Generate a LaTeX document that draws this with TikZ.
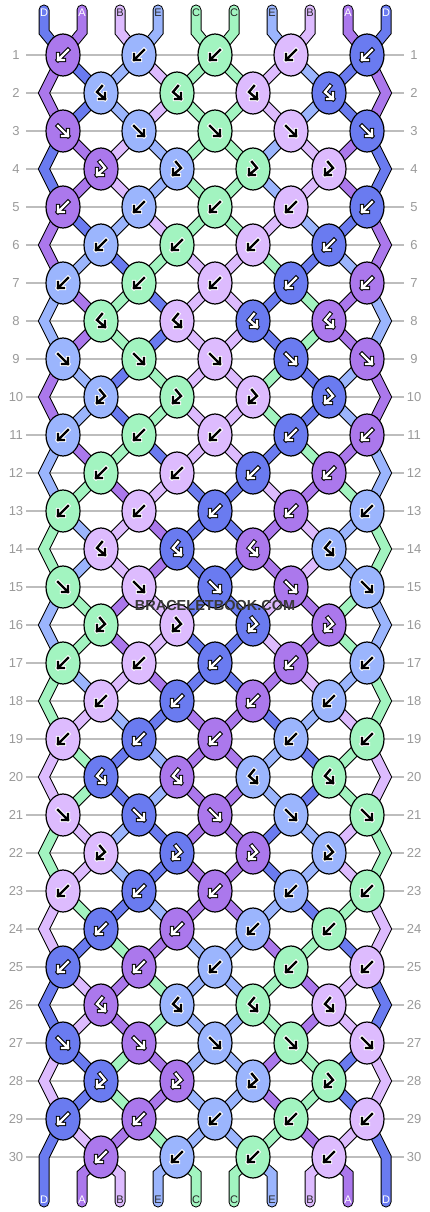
\documentclass[tikz,border=0pt]{standalone}
\usepackage{fontspec}
\setsansfont{Liberation Sans}
\usetikzlibrary{shapes.geometric}

\definecolor{strA}{HTML}{AB78EC}
\definecolor{strB}{HTML}{DDBBFE}
\definecolor{strC}{HTML}{A2F4C0}
\definecolor{strD}{HTML}{6A7BF0}
\definecolor{strE}{HTML}{9BB5FD}
\colorlet{inkA}{white}\colorlet{rimA}{black}\colorlet{lblA}{white}
\colorlet{inkD}{white}\colorlet{rimD}{black}\colorlet{lblD}{white}
\colorlet{inkB}{black}\colorlet{rimB}{white}\colorlet{lblB}{black!85}
\colorlet{inkC}{black}\colorlet{rimC}{white}\colorlet{lblC}{black!85}
\colorlet{inkE}{black}\colorlet{rimE}{white}\colorlet{lblE}{black!85}
\definecolor{gridgray}{HTML}{BDBDBD}
\definecolor{numgray}{HTML}{9A9A9A}

\tikzset{
  knot/.style={ellipse, draw=black, line width=1.2pt, fill=#1,
    minimum width=34pt, minimum height=42pt, inner sep=0pt},
  strand/.style={draw=black, line width=1pt, double=#1, double distance=9pt,
    line cap=round, line join=miter},
  rownum/.style={text=numgray, font=\sffamily\fontsize{13}{13}\selectfont, inner sep=0pt},
  endlabel/.style={text=#1, font=\sffamily\fontsize{11}{11}\selectfont, inner sep=0pt},
  stamp/.style={text=#1, font=\sffamily\bfseries\fontsize{14.5}{14.5}\selectfont, inner sep=0pt},
  % knot symbols
  gB/.pic={\draw[pic actions] (5,-5) -- (-5,5) (-5,-1) -- (-5,5) -- (1,5);},
  gF/.pic={\draw[pic actions] (-5,-5) -- (5,5) (5,-1) -- (5,5) -- (-1,5);},
  gBF/.pic={\draw[pic actions] (1,-7) -- (-4,-1) -- (4,6) (4,0) -- (4,6) -- (-2,6);},
  gFB/.pic={\draw[pic actions] (-1,-7) -- (4,-1) -- (-4,6) (-4,0) -- (-4,6) -- (2,6);},
}

\begin{document}
\begin{tikzpicture}[x=1pt, y=-1pt]
\fill[white] (0,0) rectangle (430,1212);
\useasboundingbox (0,0) rectangle (430,1212);

% row lines and numbers
\foreach \row in {1,...,30} {
  \draw[gridgray, line width=1.3pt] (26,17+38*\row) -- (404,17+38*\row);
  \node[rownum] (ln-\row) at (16,17+38*\row) {\row};
  \node[rownum] (rn-\row) at (414,17+38*\row) {\row};
}

% knot places
\foreach \row in {1,...,30} {
  \pgfmathtruncatemacro\nk{4+mod(\row,2)}
  \pgfmathsetmacro\xo{101-38*mod(\row,2)}
  \foreach \col in {1,...,\nk}
    \coordinate (k-\row-\col) at (\xo+76*\col-76, 17+38*\row);
}
\foreach \row in {2,4,...,30} {
  \coordinate (eL-\row) at (44,17+38*\row);
  \coordinate (eR-\row) at (386,17+38*\row);
}
\coordinate (k-31-1) at (44,1202);
\coordinate (k-31-5) at (386,1202);
\foreach \pos in {1,...,10} {
  \coordinate (t-\pos) at (6+38*\pos,10);
  \coordinate (tb-\pos) at (6+38*\pos,32);
  \coordinate (bb-\pos) at (6+38*\pos,1174);
  \coordinate (b-\pos) at (6+38*\pos,1202);
}

% strings, row by row
\foreach \row/\st in {0/{D,A,B,E,C,C,E,B,A,D}, 1/{A,D,E,B,C,C,B,E,D,A},
  2/{A,D,E,B,C,C,B,E,D,A}, 3/{D,A,B,E,C,C,E,B,A,D}, 4/{D,A,B,E,C,C,E,B,A,D},
  5/{A,D,E,B,C,C,B,E,D,A}, 6/{A,E,D,C,B,B,C,D,E,A}, 7/{E,A,C,D,B,B,D,C,A,E},
  8/{E,A,C,D,B,B,D,C,A,E}, 9/{A,E,D,C,B,B,C,D,E,A}, 10/{A,E,D,C,B,B,C,D,E,A},
  11/{E,A,C,D,B,B,D,C,A,E}, 12/{E,C,A,B,D,D,B,A,C,E}, 13/{C,E,B,A,D,D,A,B,E,C},
  14/{C,E,B,A,D,D,A,B,E,C}, 15/{E,C,A,B,D,D,B,A,C,E}, 16/{E,C,A,B,D,D,B,A,C,E},
  17/{C,E,B,A,D,D,A,B,E,C}, 18/{C,B,E,D,A,A,D,E,B,C}, 19/{B,C,D,E,A,A,E,D,C,B},
  20/{B,C,D,E,A,A,E,D,C,B}, 21/{C,B,E,D,A,A,D,E,B,C}, 22/{C,B,E,D,A,A,D,E,B,C},
  23/{B,C,D,E,A,A,E,D,C,B}, 24/{B,D,C,A,E,E,A,C,D,B}, 25/{D,B,A,C,E,E,C,A,B,D},
  26/{D,B,A,C,E,E,C,A,B,D}, 27/{B,D,C,A,E,E,A,C,D,B}, 28/{B,D,C,A,E,E,A,C,D,B},
  29/{D,B,A,C,E,E,C,A,B,D}, 30/{D,A,B,E,C,C,E,B,A,D}} {
  \foreach \clr [count=\pos] in \st {
    \pgfmathtruncatemacro\hi{ceil(\pos/2)}
    \pgfmathtruncatemacro\lo{floor(\pos/2)}
    \pgfmathtruncatemacro\nr{\row+1}
    \pgfmathtruncatemacro\nnr{\row+2}
    \ifnum\row=0\relax
      \draw[strand=str\clr] (t-\pos) -- (tb-\pos) -- (k-1-\hi);
    \else\ifodd\row\relax
      \ifnum\pos=1\relax
        \draw[strand=str\clr] (k-\row-1) -- (eL-\nr) -- (k-\nnr-1);
      \else\ifnum\pos=10\relax
        \draw[strand=str\clr] (k-\row-5) -- (eR-\nr) -- (k-\nnr-5);
      \else
        \draw[strand=str\clr] (k-\row-\hi) -- (k-\nr-\lo);
      \fi\fi
    \else
      \ifnum\pos>1\relax\ifnum\pos<10\relax
        \ifnum\row=30\relax
          \draw[strand=str\clr] (k-30-\lo) -- (bb-\pos) -- (b-\pos);
        \else
          \draw[strand=str\clr] (k-\row-\lo) -- (k-\nr-\hi);
        \fi
      \fi\fi
    \fi\fi
  }
}

% string names
\foreach \clr [count=\pos] in {D,A,B,E,C,C,E,B,A,D} {
  \node[endlabel=lbl\clr] (top-\pos) at (6+38*\pos,12.5) {\clr};
  \node[endlabel=lbl\clr] (bot-\pos) at (6+38*\pos,1200) {\clr};
}

% knots
\foreach \row/\kc/\typ in {1/{A,E,C,B,D}/B, 2/{E,C,B,D}/BF, 3/{A,E,C,B,D}/F,
  4/{A,E,C,B}/FB, 5/{A,E,C,B,D}/B, 6/{E,C,B,D}/B, 7/{E,C,B,D,A}/B,
  8/{C,B,D,A}/BF, 9/{E,C,B,D,A}/F, 10/{E,C,B,D}/FB, 11/{E,C,B,D,A}/B,
  12/{C,B,D,A}/B, 13/{C,B,D,A,E}/B, 14/{B,D,A,E}/BF, 15/{C,B,D,A,E}/F,
  16/{C,B,D,A}/FB, 17/{C,B,D,A,E}/B, 18/{B,D,A,E}/B, 19/{B,D,A,E,C}/B,
  20/{D,A,E,C}/BF, 21/{B,D,A,E,C}/F, 22/{B,D,A,E}/FB, 23/{B,D,A,E,C}/B,
  24/{D,A,E,C}/B, 25/{D,A,E,C,B}/B, 26/{A,E,C,B}/BF, 27/{D,A,E,C,B}/F,
  28/{D,A,E,C}/FB, 29/{D,A,E,C,B}/B, 30/{A,E,C,B}/B} {
  \foreach \clr [count=\col] in \kc {
    \node[knot=str\clr] (n-\row-\col) at (k-\row-\col) {};
    \pic[draw=rim\clr, line width=4.4pt, line cap=rect, line join=miter] at (k-\row-\col) {g\typ};
    \pic[draw=ink\clr, line width=2.4pt, line cap=rect, line join=miter] at (k-\row-\col) {g\typ};
  }
}

\node[stamp=black!78] (mark) at (215,606) {BRACELETBOOK.COM};
\end{tikzpicture}
\end{document}
